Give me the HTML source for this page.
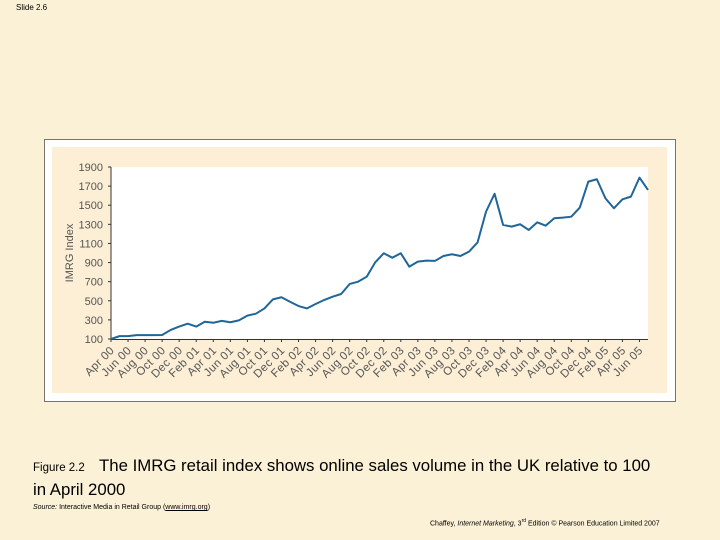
<!DOCTYPE html>
<html><head><meta charset="utf-8"><style>
body{margin:0;width:720px;height:540px;background:#FBF1D6;font-family:"Liberation Sans",Arial,sans-serif;position:relative;overflow:hidden}
.abs{position:absolute;white-space:nowrap}
</style></head><body>
<div class="abs" style="left:16px;top:3px;font-size:8px;color:#000">Slide 2.6</div>
<svg class="abs" style="left:0;top:0" width="720" height="540">
<rect x="44.5" y="139.5" width="631" height="262" fill="#fff" stroke="#77756d" stroke-width="1"/>
<rect x="52" y="147" width="615" height="246" fill="#FCEFD6"/>
<rect x="111" y="167" width="537" height="172" fill="#fff"/>
<g id="g"></g>
<text x="73" y="253" transform="rotate(-90 73 253)" text-anchor="middle" font-size="11" fill="#555">IMRG Index</text>
</svg>
<div class="abs" style="left:33px;top:455px;font-size:16.8px;line-height:22px;color:#000;white-space:normal;width:625px"><span style="font-size:11.5px;display:inline-block;width:66px">Figure 2.2</span>The IMRG retail index shows online sales volume in the UK relative to 100 in April 2000</div>
<div class="abs" style="left:33px;top:504px;font-size:7px;color:#000"><i>Source:</i> Interactive Media in Retail Group (<u>www.imrg.org</u>)</div>
<div class="abs" style="left:430px;top:518px;font-size:7px;color:#000">Chaffey, <i>Internet Marketing</i>, 3<sup style="font-size:5px">rd</sup> Edition © Pearson Education Limited 2007</div>
<script>
const monthLabels=["Apr 00","Jun 00","Aug 00","Oct 00","Dec 00","Feb 01","Apr 01","Jun 01","Aug 01","Oct 01","Dec 01","Feb 02","Apr 02","Jun 02","Aug 02","Oct 02","Dec 02","Feb 03","Apr 03","Jun 03","Aug 03","Oct 03","Dec 03","Feb 04","Apr 04","Jun 04","Aug 04","Oct 04","Dec 04","Feb 05","Apr 05","Jun 05"];
const indexValues=[100,130,130,140,140,140,142,195,230,260,230,280,270,290,275,295,345,365,420,515,537,490,445,420,466,508,543,571,676,700,752,903,997,951,997,857,910,920,917,969,987,969,1014,1110,1433,1620,1294,1276,1301,1241,1321,1286,1364,1370,1380,1475,1747,1772,1573,1468,1562,1590,1789,1660];
const yTicks=[100,300,500,700,900,1100,1300,1500,1700,1900];
const X0=111,X1=648,Y0=339,Y1=167;
const xs=i=>X0+(X1-X0)*i/(indexValues.length-1);
const ys=v=>Y0-(v-100)/1800*(Y0-Y1);
const g=document.getElementById('g');const NS="http://www.w3.org/2000/svg";
function mk(t,a){const e=document.createElementNS(NS,t);for(const k in a)e.setAttribute(k,a[k]);g.appendChild(e);return e;}
let ax=mk('line',{x1:X0,y1:Y1,x2:X0,y2:Y0,stroke:'#333','stroke-width':1});


let bx=mk('line',{x1:X0,y1:Y0+0.5,x2:X1,y2:Y0+0.5,stroke:'#333','stroke-width':1});


yTicks.forEach(v=>{
 const y=ys(v);
 mk('line',{x1:X0-3,y1:y,x2:X0,y2:y,stroke:'#333'});
 const t=mk('text',{x:X0-8,y:y+4,'text-anchor':'end','font-size':11,fill:'#555'});t.textContent=v;
 
 
});
monthLabels.forEach((m,j)=>{
 const x=xs(j*2);
 mk('line',{x1:x,y1:Y0,x2:x,y2:Y0+3,stroke:'#333'});
 const ax2=x+4,ay=Y0+12;
 const t=mk('text',{x:ax2,y:ay,'text-anchor':'end','font-size':11.5,'letter-spacing':'0.4',fill:'#555',transform:`rotate(-45 ${ax2} ${ay})`});t.textContent=m;
 
 
});
const p=mk('polyline',{points:indexValues.map((v,i)=>xs(i)+','+ys(v)).join(' '),fill:'none',stroke:'#1f6699','stroke-width':2,'stroke-linejoin':'round'});


</script>
</body></html>
